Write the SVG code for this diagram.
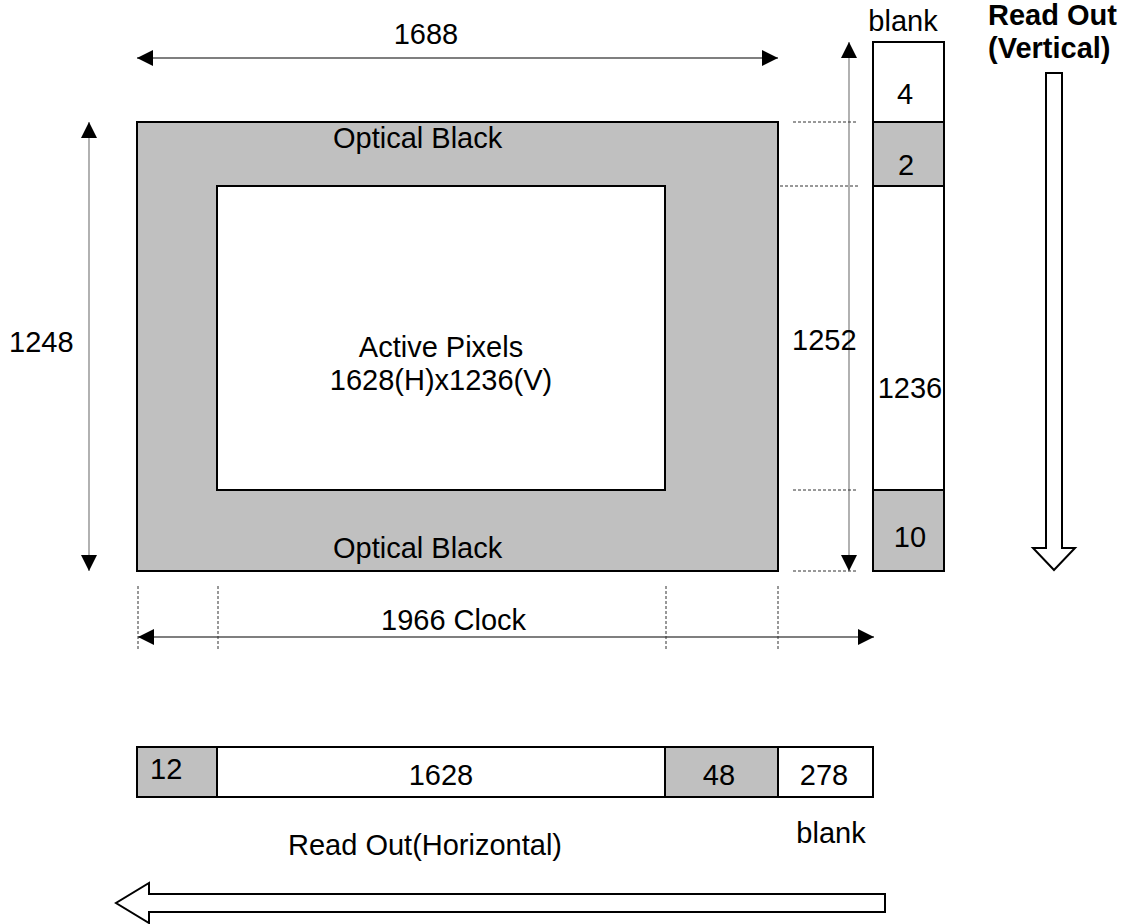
<svg xmlns="http://www.w3.org/2000/svg" width="1128" height="924" viewBox="0 0 1128 924">
<style>
text{font-family:"Liberation Sans",Arial,sans-serif;font-size:29px;fill:#000}
.b{font-weight:bold}
.g{fill:#c0c0c0;stroke:#000;stroke-width:2}
.w{fill:#fff;stroke:#000;stroke-width:2}
.dim{stroke:#555;stroke-width:1.3;fill:none}
.dimv{stroke:#888;stroke-width:1.3;fill:none}
.dot{stroke:#333;stroke-width:1;stroke-dasharray:3,2;fill:none}
.hollow{fill:#fff;stroke:#000;stroke-width:2}
</style>
<defs>
<marker id="ah" markerUnits="userSpaceOnUse" markerWidth="16" markerHeight="16" refX="16" refY="8" orient="auto-start-reverse">
<path d="M0,0 L16,8 L0,16 z" fill="#000"/>
</marker>
</defs>

<g id="sensor">
<rect class="g" x="137" y="122" width="641" height="449"/>
<text x="333" y="148">Optical Black</text>
<text x="333" y="558">Optical Black</text>
</g>
<g id="active">
<rect class="w" x="217" y="186" width="448" height="304" stroke-width="1.5"/>
<text x="441" y="357" text-anchor="middle">Active Pixels</text>
<text x="441" y="390" text-anchor="middle">1628(H)x1236(V)</text>
</g>

<g id="vcolumn">
<rect class="w" x="873" y="42" width="71" height="80"/>
<rect class="g" x="873" y="122" width="71" height="64"/>
<rect class="w" x="873" y="186" width="71" height="304"/>
<rect class="g" x="873" y="490" width="71" height="81"/>
<text x="905" y="104" text-anchor="middle">4</text>
<text x="906" y="175" text-anchor="middle">2</text>
<text x="910" y="398" text-anchor="middle">1236</text>
<text x="910" y="547" text-anchor="middle">10</text>
<text x="903" y="31" text-anchor="middle">blank</text>
</g>

<g id="vreadout">
<text class="b" x="988" y="25">Read Out</text>
<text class="b" x="988" y="58">(Vertical)</text>
<path class="hollow" d="M1046,73 L1062,73 L1062,548 L1075,548 L1054,570 L1033,548 L1046,548 z"/>
</g>

<g id="hbar">
<rect class="g" x="137" y="747" width="80" height="50"/>
<rect class="w" x="217" y="747" width="448" height="50"/>
<rect class="g" x="665" y="747" width="113" height="50"/>
<rect class="w" x="778" y="747" width="95" height="50"/>
<text x="150" y="779">12</text>
<text x="441" y="785" text-anchor="middle">1628</text>
<text x="719" y="785" text-anchor="middle">48</text>
<text x="824" y="785" text-anchor="middle">278</text>
<text x="831" y="843" text-anchor="middle">blank</text>
</g>

<g id="hreadout">
<text x="288" y="855">Read Out(Horizontal)</text>
<path class="hollow" d="M885,894 L885,912 L149,912 L149,923 L116,903 L149,883 L149,894 z"/>
</g>

<g id="connectors">
<line class="dim" x1="137" y1="58" x2="778" y2="58" marker-start="url(#ah)" marker-end="url(#ah)"/>
<line class="dimv" x1="89" y1="122" x2="89" y2="571" marker-start="url(#ah)" marker-end="url(#ah)"/>
<line class="dimv" x1="849" y1="42" x2="849" y2="571" marker-start="url(#ah)" marker-end="url(#ah)"/>
<line class="dim" x1="138" y1="637" x2="874" y2="637" marker-start="url(#ah)" marker-end="url(#ah)"/>
<line class="dot" x1="793" y1="122" x2="857" y2="122"/>
<line class="dot" x1="780" y1="186" x2="859" y2="186"/>
<line class="dot" x1="793" y1="490" x2="858" y2="490"/>
<line class="dot" x1="793" y1="571" x2="857" y2="571"/>
<line class="dot" x1="138" y1="586" x2="138" y2="650"/>
<line class="dot" x1="218" y1="586" x2="218" y2="650"/>
<line class="dot" x1="666" y1="586" x2="666" y2="650"/>
<line class="dot" x1="778" y1="586" x2="778" y2="650"/>
</g>

<g id="labels">
<text x="426" y="44" text-anchor="middle">1688</text>
<text x="9" y="352">1248</text>
<text x="792" y="350">1252</text>
<text x="381" y="630">1966 Clock</text>
</g>
</svg>
